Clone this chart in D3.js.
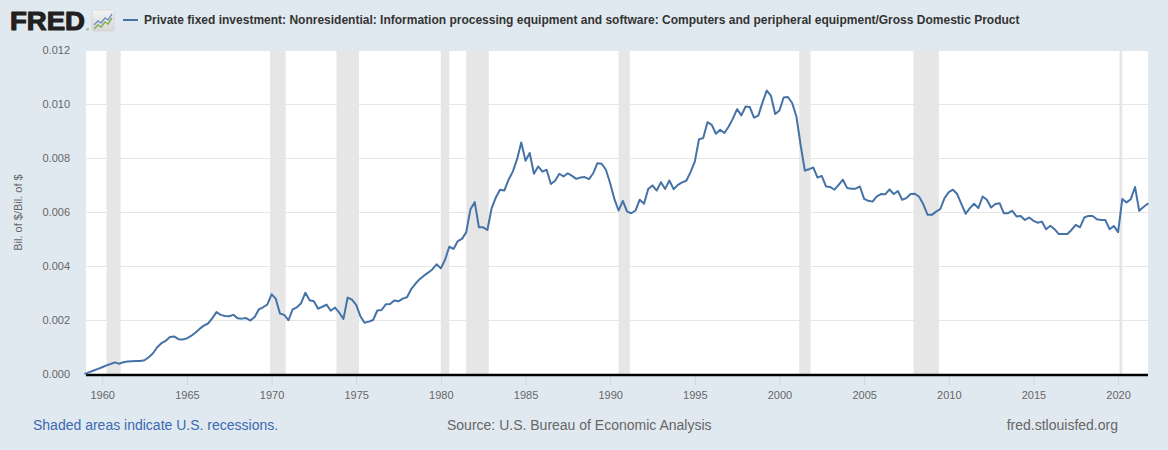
<!DOCTYPE html>
<html>
<head>
<meta charset="utf-8">
<script src="https://cdn.jsdelivr.net/npm/d3@7"></script>
<style>
  html, body { margin: 0; padding: 0; background: #e1e9f0; }
  svg { display: block; font-family: "Liberation Sans", Arial, sans-serif; }
</style>
</head>
<body>
<svg id="chart" width="1168" height="450"></svg>
<script>
// ---- DATA ----
const seriesTitle = "Private fixed investment: Nonresidential: Information processing equipment and software: Computers and peripheral equipment/Gross Domestic Product";
const yAxisTitle = "Bil. of $/Bil. of $";
const firstQuarter = "1959-01-01"; // quarterly observations start here
const values = [
  0.00002,0.00008,0.00014,0.00020,0.00026,0.00033,0.00038,0.00044,0.00039,0.00045,
  0.00047,0.00048,0.00049,0.00049,0.00052,0.00063,0.00078,0.00100,0.00115,0.00124,
  0.00138,0.00140,0.00130,0.00129,0.00133,0.00142,0.00154,0.00168,0.00180,0.00188,
  0.00207,0.00230,0.00220,0.00216,0.00215,0.00220,0.00207,0.00206,0.00208,0.00199,
  0.00212,0.00240,0.00248,0.00258,0.00296,0.00280,0.00225,0.00220,0.00200,0.00240,
  0.00248,0.00263,0.00302,0.00274,0.00270,0.00243,0.00250,0.00258,0.00235,0.00247,
  0.00228,0.00205,0.00284,0.00276,0.00257,0.00215,0.00191,0.00195,0.00201,0.00236,
  0.00238,0.00259,0.00260,0.00273,0.00270,0.00280,0.00285,0.00315,0.00335,0.00352,
  0.00365,0.00376,0.00388,0.00407,0.00392,0.00424,0.00472,0.00464,0.00493,0.00501,
  0.00525,0.00611,0.00637,0.00544,0.00544,0.00534,0.00615,0.00654,0.00683,0.00680,
  0.00720,0.00750,0.00795,0.00858,0.00790,0.00819,0.00742,0.00769,0.00750,0.00757,
  0.00704,0.00716,0.00742,0.00732,0.00744,0.00734,0.00723,0.00728,0.00730,0.00722,
  0.00744,0.00781,0.00779,0.00757,0.00707,0.00649,0.00606,0.00642,0.00602,0.00596,
  0.00606,0.00646,0.00631,0.00686,0.00699,0.00680,0.00711,0.00686,0.00717,0.00685,
  0.00701,0.00710,0.00716,0.00748,0.00787,0.00870,0.00874,0.00933,0.00923,0.00890,
  0.00905,0.00893,0.00917,0.00946,0.00981,0.00958,0.00991,0.00989,0.00950,0.00957,
  0.01006,0.01050,0.01031,0.00963,0.00976,0.01024,0.01026,0.01004,0.00954,0.00849,
  0.00754,0.00759,0.00765,0.00728,0.00734,0.00695,0.00693,0.00683,0.00701,0.00720,
  0.00689,0.00687,0.00687,0.00695,0.00649,0.00642,0.00639,0.00658,0.00667,0.00666,
  0.00684,0.00667,0.00678,0.00646,0.00652,0.00667,0.00668,0.00657,0.00629,0.00590,
  0.00590,0.00602,0.00611,0.00652,0.00674,0.00683,0.00667,0.00630,0.00594,0.00615,
  0.00631,0.00615,0.00658,0.00646,0.00617,0.00630,0.00633,0.00596,0.00596,0.00605,
  0.00584,0.00586,0.00571,0.00580,0.00568,0.00561,0.00565,0.00537,0.00550,0.00537,
  0.00519,0.00519,0.00519,0.00534,0.00553,0.00544,0.00580,0.00586,0.00586,0.00574,
  0.00571,0.00571,0.00537,0.00549,0.00526,0.00649,0.00636,0.00648,0.00693,0.00605,
  0.00619,0.00631
];
const yTicks = [0, 0.002, 0.004, 0.006, 0.008, 0.010, 0.012];
const xTickYears = [1960, 1965, 1970, 1975, 1980, 1985, 1990, 1995, 2000, 2005, 2010, 2015, 2020];
const recessionStarts = ["1960-04-01","1969-12-01","1973-11-01","1980-01-01","1981-07-01","1990-07-01","2001-03-01","2007-12-01","2020-02-01"];
const recessionEnds   = ["1961-02-01","1970-11-01","1975-03-01","1980-07-01","1982-11-01","1991-03-01","2001-11-01","2009-06-01","2020-04-01"];
const footerLeft = "Shaded areas indicate U.S. recessions.";
const footerMid = "Source: U.S. Bureau of Economic Analysis";
const footerRight = "fred.stlouisfed.org";

// ---- BUILD ----
const parse = d3.utcParse("%Y-%m-%d");
const start = parse(firstQuarter);
const data = values.map((v, i) => ({ date: d3.utcMonth.offset(start, 3 * i), value: v }));

const svg = d3.select("#chart");
const plot = { left: 86, right: 1148, top: 50, bottom: 375 };

const x = d3.scaleUtc()
  .domain([start, data[data.length - 1].date])
  .range([plot.left - 0.7, plot.right - 0.3]);
const y = d3.scaleLinear().domain([0, 0.012]).range([plot.bottom - 0.7, plot.top]);

// plot background
svg.append("rect")
  .attr("x", plot.left).attr("y", plot.top)
  .attr("width", plot.right - plot.left).attr("height", plot.bottom - plot.top)
  .attr("fill", "#ffffff");

// recessions
const defs = svg.append("defs");
defs.append("clipPath").attr("id", "clip")
  .append("rect").attr("x", plot.left).attr("y", plot.top)
  .attr("width", plot.right - plot.left).attr("height", plot.bottom - plot.top);

svg.append("g").attr("clip-path", "url(#clip)")
  .selectAll("rect").data(recessionStarts.map((s, i) => [parse(s), parse(recessionEnds[i])]))
  .join("rect")
  .attr("x", d => x(d[0]))
  .attr("width", d => Math.max(1.5, x(d[1]) - x(d[0])))
  .attr("y", plot.top).attr("height", plot.bottom - plot.top)
  .attr("fill", "#e6e6e6");

// gridlines
svg.append("g").selectAll("line").data(yTicks.filter(t => t > 0))
  .join("line")
  .attr("x1", plot.left).attr("x2", plot.right)
  .attr("y1", d => Math.round(y(d)) + 0.5).attr("y2", d => Math.round(y(d)) + 0.5)
  .attr("stroke", "#e6e6e6").attr("stroke-width", 1);

// y axis labels
const yAxis = d3.axisLeft(y).tickValues(yTicks).tickFormat(d3.format(".3f")).tickSize(0).tickPadding(16);
const gy = svg.append("g").attr("transform", `translate(${plot.left},0)`).call(yAxis);
gy.select(".domain").remove();
gy.selectAll("text").attr("fill", "#666666").style("font-size", "11px")
  .style("font-family", "'Liberation Sans', Arial, sans-serif").attr("dy", "0.32em");

// x axis
const xAxis = d3.axisBottom(x)
  .tickValues(xTickYears.map(yr => new Date(Date.UTC(yr, 0, 1))))
  .tickFormat(d3.utcFormat("%Y")).tickSize(10).tickPadding(6);
const gx = svg.append("g").attr("transform", `translate(0,${plot.bottom})`).call(xAxis);
gx.select(".domain").remove();
gx.selectAll(".tick line").attr("stroke", "#ccd6eb");
gx.selectAll("text").attr("fill", "#666666").style("font-size", "11px")
  .style("font-family", "'Liberation Sans', Arial, sans-serif");
svg.append("line")
  .attr("x1", plot.left).attr("x2", plot.right)
  .attr("y1", plot.bottom).attr("y2", plot.bottom)
  .attr("stroke", "#000").attr("stroke-width", 2.5);

// series line
const line = d3.line().x(d => x(d.date)).y(d => y(d.value));
svg.append("path").datum(data)
  .attr("d", line).attr("fill", "none")
  .attr("stroke", "#4572a7").attr("stroke-width", 2)
  .attr("stroke-linejoin", "round").attr("stroke-linecap", "round");

// y axis title
svg.append("text")
  .attr("transform", `translate(22,${(plot.top + plot.bottom) / 2}) rotate(-90)`)
  .attr("text-anchor", "middle")
  .attr("fill", "#666666").style("font-size", "11px")
  .text(yAxisTitle);

// ---- HEADER ----
svg.append("text").attr("x", 10).attr("y", 30)
  .attr("fill", "#231f20").attr("stroke", "#231f20").attr("stroke-width", 1.1)
  .attr("stroke-linejoin", "round")
  .style("font-size", "26px").style("font-weight", "bold")
  .style("font-family", "'Liberation Sans', Arial, sans-serif")
  .attr("textLength", 75).attr("lengthAdjust", "spacingAndGlyphs")
  .text("FRED");
svg.append("text").attr("x", 86).attr("y", 31)
  .attr("fill", "#231f20").style("font-size", "4px").text("®");

// icon
const icon = svg.append("g").attr("transform", "translate(92,10)");
const grad = defs.append("linearGradient").attr("id", "ig")
  .attr("x1", 0).attr("y1", 0).attr("x2", 0).attr("y2", 1);
grad.append("stop").attr("offset", "0%").attr("stop-color", "#f4f4f4");
grad.append("stop").attr("offset", "100%").attr("stop-color", "#d7d7d7");
icon.append("rect").attr("width", 22).attr("height", 21).attr("rx", 2)
  .attr("fill", "url(#ig)").attr("stroke", "#cfcfcf").attr("stroke-width", 0.6);
icon.append("path").attr("d", "M2,15 L6,11 L9,13 L13,8 L16,10 L20,4")
  .attr("fill", "none").attr("stroke", "#6d94c2").attr("stroke-width", 1.4);
icon.append("path").attr("d", "M2,19 L6,15 L9,17 L13,12 L16,14 L20,8")
  .attr("fill", "none").attr("stroke", "#7fae4a").attr("stroke-width", 1.4);

// legend
svg.append("line").attr("x1", 123).attr("x2", 138).attr("y1", 20).attr("y2", 20)
  .attr("stroke", "#4572a7").attr("stroke-width", 2);
svg.append("text").attr("x", 144).attr("y", 24)
  .attr("fill", "#333333").style("font-size", "12px").style("font-weight", "bold")
  .text(seriesTitle);

// ---- FOOTER ----
svg.append("text").attr("x", 33).attr("y", 430)
  .attr("fill", "#3a6ab0").style("font-size", "14px").text(footerLeft);
svg.append("text").attr("x", 447).attr("y", 430)
  .attr("fill", "#666666").style("font-size", "14px").text(footerMid);
svg.append("text").attr("x", 1118).attr("y", 430).attr("text-anchor", "end")
  .attr("fill", "#666666").style("font-size", "14px").text(footerRight);
</script>
</body>
</html>
